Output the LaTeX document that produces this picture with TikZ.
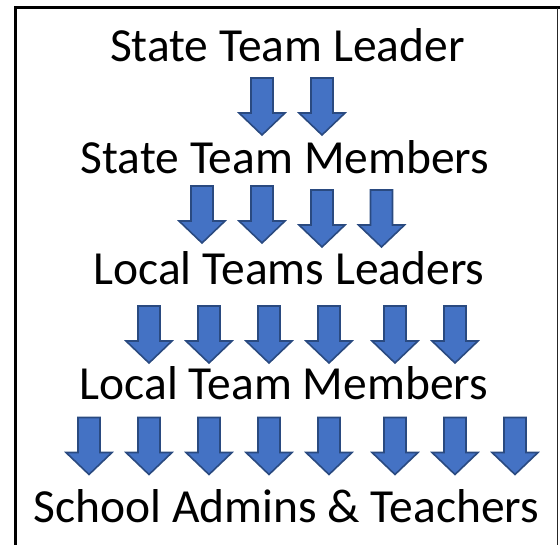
\documentclass[tikz,border=0pt]{standalone}
\usepackage{fontspec}
\setmainfont{Carlito}
\definecolor{arrowfill}{HTML}{4472C4}
\definecolor{arrowline}{HTML}{2A4A80}
\tikzset{
  levellabel/.style={anchor=base, inner sep=0pt, font=\fontsize{47.5}{52}\selectfont},
  blockarrow/.pic={\draw[arrowline, fill=arrowfill, line width=1.6pt, line join=miter]
     (-11,0) -- (11,0) -- (11,35) -- (23,35) -- (0,57) -- (-23,35) -- (-11,35) -- cycle;},
  frameline/.style={line width=3pt, black},
  frameright/.style={line width=1.4pt, black!85}
}
\begin{document}
\begin{tikzpicture}[x=1pt,y=-1pt]
\useasboundingbox (0,0) rectangle (560,545);
\fill[white] (0,0) rectangle (560,545);
\draw[frameline] (15.5,545) -- (15.5,8) -- (560,8);
\draw[frameright] (557.5,8) -- (557.5,545);

\node[levellabel] (stl) at (287.5,62) {State Team Leader};
\node[levellabel] (stm) at (285,174) {State Team Members};
\node[levellabel] (ltl) at (289,285) {Local Teams Leaders};
\node[levellabel] (ltm) at (284,400) {Local Team Members};
\node[levellabel] (sat) at (286.5,522) {School Admins \& Teachers};

\foreach \cx in {262,322} \pic at (\cx,78) {blockarrow};
\foreach \cx in {202,262} \pic at (\cx,186) {blockarrow};
\foreach \cx in {322,381.5} \pic at (\cx,190) {blockarrow};
\foreach \cx in {149,209,269,329,395,455} \pic at (\cx,306) {blockarrow};
\foreach \cx in {89,149,209,269,329,395,455,515} \pic at (\cx,417.5) {blockarrow};
\end{tikzpicture}
\end{document}
